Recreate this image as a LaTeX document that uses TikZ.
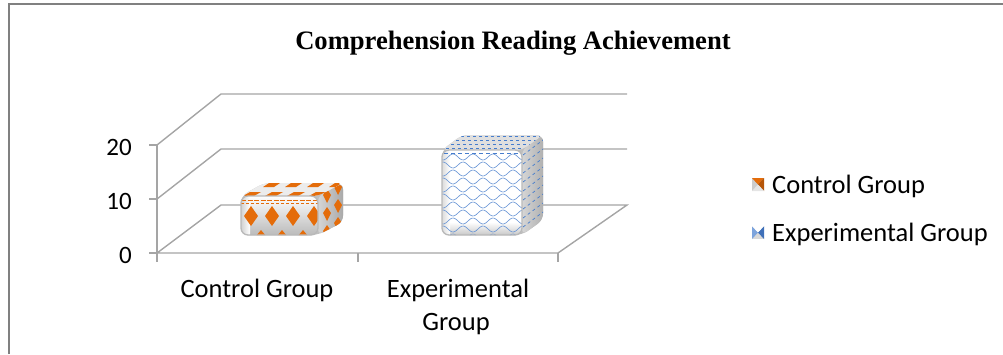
\documentclass[tikz,border=0pt]{standalone}
\usepackage{fontspec}
\usetikzlibrary{calc}
\setmainfont{Liberation Serif}
\newfontfamily\carl{Carlito}
\definecolor{org}{RGB}{228,108,10}
\definecolor{wblue}{RGB}{70,125,205}
\definecolor{gridg}{RGB}{165,165,165}
\definecolor{frameg}{RGB}{128,128,128}
\tikzset{
  gridline/.style={draw=gridg, line width=1.4pt},
  lab/.style={font=\carl\fontsize{26.5}{31}\selectfont, inner sep=0pt},
  rim/.style={draw=gray!55, line width=1.3pt, rounded corners=7pt},
}
\begin{document}
\begin{tikzpicture}[x=1pt,y=-1pt]
\useasboundingbox (0,0) rectangle (1003,354);
% frame
\draw[frameg, line width=1.8pt] (9,354) -- (9,4) -- (1003,4);
% title
\node[font=\bfseries\fontsize{26.6}{31}\selectfont, inner sep=0pt, anchor=base] (title) at (513,49) {Comprehension Reading Achievement};
% grid
\coordinate (f0) at (157,253); \coordinate (f10) at (157,199); \coordinate (f20) at (157,145);
\coordinate (b0) at (221,205); \coordinate (b10) at (221,149); \coordinate (b20) at (221,94);
\coordinate (fr) at (558,253); \coordinate (br0) at (627,205); \coordinate (br10) at (627,149); \coordinate (br20) at (627,94);
\draw[gridline] (f0) -- (b0) -- (br0) -- (fr) -- cycle;
\draw[gridline] (f10) -- (b10) -- (br10);
\draw[gridline] (f20) -- (b20) -- (br20);
\draw[gridline] (f20) -- (157,262);
\foreach \yy in {145,199,253} \draw[gridline] (149,\yy) -- (157,\yy);
\foreach \xx in {358,558} \draw[gridline] (\xx,253) -- (\xx,262);
% axis labels
\node[lab, font=\carl\fontsize{25}{30}\selectfont, anchor=base east] (y20) at (132,155) {20};
\node[lab, font=\carl\fontsize{25}{30}\selectfont, anchor=base east] (y10) at (132,209) {10};
\node[lab, font=\carl\fontsize{25}{30}\selectfont, anchor=base east] (y0) at (132,263) {0};
\node[lab, anchor=base] (c1) at (257,297) {Control Group};
\node[lab, anchor=base] (c2a) at (458,297) {Experimental};
\node[lab, anchor=base] (c2b) at (456,330) {Group};

% ---------- Control bar ----------
\fill[gray!50, rounded corners=7pt] (241,196) -- (264,183) -- (343,183) -- (343,222) -- (318,235) -- (241,235) -- cycle;
% side face
\begin{scope}
\clip[rounded corners=6pt] (318,196) -- (343,183) -- (343,222) -- (318,235) -- cycle;
\shade[left color=gray!30, right color=gray!70] (316,180) rectangle (345,237);
\foreach \yy in {195,213,231} {
  \fill[org] (327,\yy-6) -- (331,\yy) -- (327,\yy+8) -- (323,\yy) -- cycle;
  \fill[org] (338,\yy-14) -- (342,\yy-8) -- (338,\yy) -- (334,\yy-8) -- cycle;
}
\end{scope}
% top face
\begin{scope}
\clip[rounded corners=6pt] (241,196) -- (264,183) -- (343,183) -- (318,196) -- cycle;
\fill[white!85!gray] (238,180) rectangle (346,198);
\foreach \u in {0,2,4,6,8} {
  \fill[org] ($(241,196)+(\u*11,0)+(2,0)$) -- ++(11,0) -- ++(7,-4) -- ++(-11,0) -- cycle;
  \fill[org] ($(241,196)+(\u*11,0)+(22,-9)$) -- ++(11,0) -- ++(6,-4) -- ++(-11,0) -- cycle;
}
\end{scope}
% front face
\begin{scope}
\clip[rounded corners=7pt] (241,196) rectangle (318,235);
\shade[top color=white, bottom color=gray!55] (240,195) rectangle (319,236);
\shade[left color=gray!40, right color=white] (240,195) rectangle (250,236);
\draw[org, line width=1pt, dash pattern=on 5pt off 1.5pt] (241,200) -- (318,200);
\draw[org, line width=0.7pt, dash pattern=on 3pt off 2pt] (241,203) -- (318,203);
\foreach \xx in {251,272,293,314} {
  \fill[org] (\xx,206) -- (\xx+7,216) -- (\xx,226) -- (\xx-7,216) -- cycle;
  \fill[org] (\xx+10,230) -- (\xx+15,236) -- (\xx+5,236) -- cycle;
}
\end{scope}
\draw[rim] (241,196) rectangle (318,235);

% ---------- Experimental bar ----------
\fill[gray!50, rounded corners=7pt] (442,150) -- (462,135) -- (543,135) -- (543,220) -- (522,235) -- (442,235) -- cycle;
% side face
\begin{scope}
\clip[rounded corners=6pt] (522,150) -- (543,135) -- (543,220) -- (522,235) -- cycle;
\shade[left color=gray!30, right color=gray!65] (520,132) rectangle (546,238);
\foreach \yy in {146,155,...,236} {
  \draw[wblue, line width=0.7pt, dash pattern=on 3pt off 3pt] (523,\yy) -- (543,\yy-15);
}
\end{scope}
% top face
\begin{scope}
\clip[rounded corners=6pt] (442,150) -- (462,135) -- (543,135) -- (522,150) -- cycle;
\fill[gray!25] (440,133) rectangle (546,152);
\foreach \k in {0,1,2,3} {
  \draw[wblue, line width=0.8pt, dash pattern=on 3pt off 3pt] ($(446,148)+(\k*5,-4*\k)$) -- ++(80,0);
}
\end{scope}
% front face
\begin{scope}
\clip[rounded corners=7pt] (442,150) rectangle (522,235);
\fill[white] (440,148) rectangle (524,237);
\shade[top color=white, bottom color=gray!50] (440,222) rectangle (524,237);
\shade[left color=gray!35, right color=white] (440,148) rectangle (450,237);
\foreach \r in {0,...,10} {
  \pgfmathsetmacro{\yo}{157+\r*8}
  \pgfmathsetmacro{\sh}{mod(\r,2)*10}
  \draw[wblue!85, line width=0.6pt] plot[domain=0:88, samples=70, smooth] ({438+\x}, {\yo+3*sin((\x+\sh)*18)});
}
\draw[wblue, line width=1pt, dash pattern=on 4pt off 3pt] (444,153) -- (520,153);
\end{scope}
\draw[rim] (442,150) rectangle (522,235);

% ---------- Legend ----------
\fill[gray!40] (752,178) rectangle (764,191);
\fill[org] (752,178) -- (764,178) -- (758,184.5) -- cycle;
\fill[org!80!black] (764,178) -- (764,191) -- (758,184.5) -- cycle;
\fill[gray!20] (752,191) -- (764,191) -- (758,184.5) -- cycle;
\node[lab, anchor=base west] (l1) at (772,193) {Control Group};

\fill[gray!30] (752,226) rectangle (764,239);
\fill[wblue!70] (752,226) -- (752,239) -- (758,232.5) -- cycle;
\fill[wblue!90!black] (764,226) -- (764,239) -- (758,232.5) -- cycle;
\fill[white] (752,226) -- (764,226) -- (758,232.5) -- cycle;
\node[lab, anchor=base west] (l2) at (772,241) {Experimental Group};
\end{tikzpicture}
\end{document}
